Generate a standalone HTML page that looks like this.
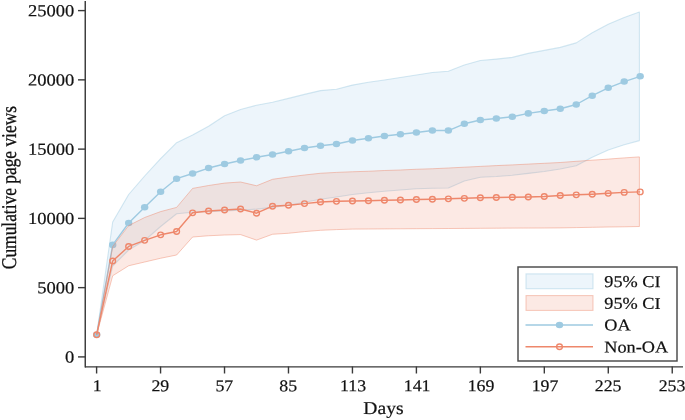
<!DOCTYPE html><html><head><meta charset="utf-8"><title>Cumulative page views</title><style>html,body{margin:0;padding:0;background:#fff}svg{display:block}text{font-family:"Liberation Serif","Times New Roman",serif;fill:#111;stroke:#111;stroke-width:0.2px}</style></head><body>
<svg width="685" height="420" viewBox="0 0 685 420">
<rect width="685" height="420" fill="#fff"/>
<polygon points="96.70,334.70 112.69,222.00 128.67,194.50 144.66,176.00 160.64,158.60 176.62,142.70 192.61,135.10 208.59,126.25 224.58,115.80 240.56,109.50 256.55,105.25 272.53,102.30 288.52,98.40 304.50,94.40 320.49,90.60 336.47,89.30 352.46,85.10 368.44,82.30 384.43,80.00 400.41,77.50 416.40,75.00 432.38,72.50 448.37,71.25 464.35,65.00 480.34,60.50 496.32,59.10 512.31,57.40 528.29,53.40 544.28,50.40 560.26,47.40 576.25,42.90 592.24,32.80 608.22,24.20 624.21,17.50 639.40,12.10 639.40,140.60 624.21,144.80 608.22,150.10 592.24,157.30 576.25,165.70 560.26,169.00 544.28,171.50 528.29,173.40 512.31,175.30 496.32,176.50 480.34,177.30 464.35,181.00 448.37,188.00 432.38,188.25 416.40,188.75 400.41,190.00 384.43,191.25 368.44,192.75 352.46,194.50 336.47,197.00 320.49,199.25 304.50,202.20 288.52,205.20 272.53,207.40 256.55,209.10 240.56,210.20 224.58,210.90 208.59,211.80 192.61,212.30 176.62,213.80 160.64,226.50 144.66,240.50 128.67,250.00 112.69,266.00 96.70,334.70" fill="#edf5fb" stroke="#9ecae1" stroke-opacity="0.45" stroke-width="1.1" stroke-linejoin="round"/>
<polyline points="96.70,334.70 112.69,244.90 128.67,223.00 144.66,207.30 160.64,191.70 176.62,178.70 192.61,173.50 208.59,168.05 224.58,164.05 240.56,160.55 256.55,157.30 272.53,154.55 288.52,151.30 304.50,148.05 320.49,145.80 336.47,144.05 352.46,140.55 368.44,138.30 384.43,136.05 400.41,134.30 416.40,132.55 432.38,130.55 448.37,130.55 464.35,123.80 480.34,120.05 496.32,118.55 512.31,116.70 528.29,113.40 544.28,111.05 560.26,108.80 576.25,104.50 592.24,95.70 608.22,87.80 624.21,81.55 640.19,76.30" fill="none" stroke="#9ecae1" stroke-width="1.4" stroke-linejoin="round"/>
<ellipse cx="96.70" cy="334.70" rx="3.7" ry="3.3" fill="#9ecae1"/>
<ellipse cx="112.69" cy="244.90" rx="3.7" ry="3.3" fill="#9ecae1"/>
<ellipse cx="128.67" cy="223.00" rx="3.7" ry="3.3" fill="#9ecae1"/>
<ellipse cx="144.66" cy="207.30" rx="3.7" ry="3.3" fill="#9ecae1"/>
<ellipse cx="160.64" cy="191.70" rx="3.7" ry="3.3" fill="#9ecae1"/>
<ellipse cx="176.62" cy="178.70" rx="3.7" ry="3.3" fill="#9ecae1"/>
<ellipse cx="192.61" cy="173.50" rx="3.7" ry="3.3" fill="#9ecae1"/>
<ellipse cx="208.59" cy="168.05" rx="3.7" ry="3.3" fill="#9ecae1"/>
<ellipse cx="224.58" cy="164.05" rx="3.7" ry="3.3" fill="#9ecae1"/>
<ellipse cx="240.56" cy="160.55" rx="3.7" ry="3.3" fill="#9ecae1"/>
<ellipse cx="256.55" cy="157.30" rx="3.7" ry="3.3" fill="#9ecae1"/>
<ellipse cx="272.53" cy="154.55" rx="3.7" ry="3.3" fill="#9ecae1"/>
<ellipse cx="288.52" cy="151.30" rx="3.7" ry="3.3" fill="#9ecae1"/>
<ellipse cx="304.50" cy="148.05" rx="3.7" ry="3.3" fill="#9ecae1"/>
<ellipse cx="320.49" cy="145.80" rx="3.7" ry="3.3" fill="#9ecae1"/>
<ellipse cx="336.47" cy="144.05" rx="3.7" ry="3.3" fill="#9ecae1"/>
<ellipse cx="352.46" cy="140.55" rx="3.7" ry="3.3" fill="#9ecae1"/>
<ellipse cx="368.44" cy="138.30" rx="3.7" ry="3.3" fill="#9ecae1"/>
<ellipse cx="384.43" cy="136.05" rx="3.7" ry="3.3" fill="#9ecae1"/>
<ellipse cx="400.41" cy="134.30" rx="3.7" ry="3.3" fill="#9ecae1"/>
<ellipse cx="416.40" cy="132.55" rx="3.7" ry="3.3" fill="#9ecae1"/>
<ellipse cx="432.38" cy="130.55" rx="3.7" ry="3.3" fill="#9ecae1"/>
<ellipse cx="448.37" cy="130.55" rx="3.7" ry="3.3" fill="#9ecae1"/>
<ellipse cx="464.35" cy="123.80" rx="3.7" ry="3.3" fill="#9ecae1"/>
<ellipse cx="480.34" cy="120.05" rx="3.7" ry="3.3" fill="#9ecae1"/>
<ellipse cx="496.32" cy="118.55" rx="3.7" ry="3.3" fill="#9ecae1"/>
<ellipse cx="512.31" cy="116.70" rx="3.7" ry="3.3" fill="#9ecae1"/>
<ellipse cx="528.29" cy="113.40" rx="3.7" ry="3.3" fill="#9ecae1"/>
<ellipse cx="544.28" cy="111.05" rx="3.7" ry="3.3" fill="#9ecae1"/>
<ellipse cx="560.26" cy="108.80" rx="3.7" ry="3.3" fill="#9ecae1"/>
<ellipse cx="576.25" cy="104.50" rx="3.7" ry="3.3" fill="#9ecae1"/>
<ellipse cx="592.24" cy="95.70" rx="3.7" ry="3.3" fill="#9ecae1"/>
<ellipse cx="608.22" cy="87.80" rx="3.7" ry="3.3" fill="#9ecae1"/>
<ellipse cx="624.21" cy="81.55" rx="3.7" ry="3.3" fill="#9ecae1"/>
<ellipse cx="640.19" cy="76.30" rx="3.7" ry="3.3" fill="#9ecae1"/>
<polygon points="96.70,334.70 112.69,246.50 128.67,225.60 144.66,217.50 160.64,211.60 176.62,207.40 192.61,188.40 208.59,185.50 224.58,183.10 240.56,182.00 256.55,185.75 272.53,179.30 288.52,177.00 304.50,175.00 320.49,173.25 336.47,172.40 352.46,171.75 368.44,171.25 384.43,170.50 400.41,170.00 416.40,169.25 432.38,168.75 448.37,168.00 464.35,167.20 480.34,166.40 496.32,165.60 512.31,164.90 528.29,164.10 544.28,163.30 560.26,162.50 576.25,161.30 592.24,160.20 608.22,159.10 624.21,157.90 639.40,156.90 639.40,226.50 624.21,226.80 608.22,227.00 592.24,227.30 576.25,227.60 560.26,227.90 544.28,228.00 528.29,228.05 512.31,228.10 496.32,228.20 480.34,228.30 464.35,228.40 448.37,228.50 432.38,228.60 416.40,228.70 400.41,228.80 384.43,228.90 368.44,229.00 352.46,229.10 336.47,229.60 320.49,230.30 304.50,231.60 288.52,233.25 272.53,234.25 256.55,240.10 240.56,234.60 224.58,235.00 208.59,235.75 192.61,237.00 176.62,255.00 160.64,258.25 144.66,262.00 128.67,265.75 112.69,275.75 96.70,334.70" fill="#ee876b" fill-opacity="0.185" stroke="#ee876b" stroke-opacity="0.45" stroke-width="1" stroke-linejoin="round"/>
<polyline points="96.70,334.70 112.69,260.95 128.67,246.45 144.66,240.30 160.64,234.80 176.62,231.50 192.61,212.80 208.59,210.95 224.58,209.95 240.56,208.95 256.55,213.20 272.53,206.20 288.52,205.20 304.50,203.60 320.49,201.95 336.47,201.30 352.46,200.95 368.44,200.70 384.43,200.20 400.41,199.95 416.40,199.45 432.38,199.20 448.37,198.80 464.35,198.30 480.34,197.70 496.32,197.45 512.31,197.20 528.29,196.95 544.28,196.45 560.26,195.45 576.25,194.80 592.24,194.20 608.22,193.30 624.21,192.40 640.19,191.90" fill="none" stroke="#ee876b" stroke-width="1.4" stroke-linejoin="round"/>
<ellipse cx="96.70" cy="334.70" rx="2.9" ry="2.75" fill="none" stroke="#ee876b" stroke-width="1.35"/>
<ellipse cx="112.69" cy="260.95" rx="2.9" ry="2.75" fill="none" stroke="#ee876b" stroke-width="1.35"/>
<ellipse cx="128.67" cy="246.45" rx="2.9" ry="2.75" fill="none" stroke="#ee876b" stroke-width="1.35"/>
<ellipse cx="144.66" cy="240.30" rx="2.9" ry="2.75" fill="none" stroke="#ee876b" stroke-width="1.35"/>
<ellipse cx="160.64" cy="234.80" rx="2.9" ry="2.75" fill="none" stroke="#ee876b" stroke-width="1.35"/>
<ellipse cx="176.62" cy="231.50" rx="2.9" ry="2.75" fill="none" stroke="#ee876b" stroke-width="1.35"/>
<ellipse cx="192.61" cy="212.80" rx="2.9" ry="2.75" fill="none" stroke="#ee876b" stroke-width="1.35"/>
<ellipse cx="208.59" cy="210.95" rx="2.9" ry="2.75" fill="none" stroke="#ee876b" stroke-width="1.35"/>
<ellipse cx="224.58" cy="209.95" rx="2.9" ry="2.75" fill="none" stroke="#ee876b" stroke-width="1.35"/>
<ellipse cx="240.56" cy="208.95" rx="2.9" ry="2.75" fill="none" stroke="#ee876b" stroke-width="1.35"/>
<ellipse cx="256.55" cy="213.20" rx="2.9" ry="2.75" fill="none" stroke="#ee876b" stroke-width="1.35"/>
<ellipse cx="272.53" cy="206.20" rx="2.9" ry="2.75" fill="none" stroke="#ee876b" stroke-width="1.35"/>
<ellipse cx="288.52" cy="205.20" rx="2.9" ry="2.75" fill="none" stroke="#ee876b" stroke-width="1.35"/>
<ellipse cx="304.50" cy="203.60" rx="2.9" ry="2.75" fill="none" stroke="#ee876b" stroke-width="1.35"/>
<ellipse cx="320.49" cy="201.95" rx="2.9" ry="2.75" fill="none" stroke="#ee876b" stroke-width="1.35"/>
<ellipse cx="336.47" cy="201.30" rx="2.9" ry="2.75" fill="none" stroke="#ee876b" stroke-width="1.35"/>
<ellipse cx="352.46" cy="200.95" rx="2.9" ry="2.75" fill="none" stroke="#ee876b" stroke-width="1.35"/>
<ellipse cx="368.44" cy="200.70" rx="2.9" ry="2.75" fill="none" stroke="#ee876b" stroke-width="1.35"/>
<ellipse cx="384.43" cy="200.20" rx="2.9" ry="2.75" fill="none" stroke="#ee876b" stroke-width="1.35"/>
<ellipse cx="400.41" cy="199.95" rx="2.9" ry="2.75" fill="none" stroke="#ee876b" stroke-width="1.35"/>
<ellipse cx="416.40" cy="199.45" rx="2.9" ry="2.75" fill="none" stroke="#ee876b" stroke-width="1.35"/>
<ellipse cx="432.38" cy="199.20" rx="2.9" ry="2.75" fill="none" stroke="#ee876b" stroke-width="1.35"/>
<ellipse cx="448.37" cy="198.80" rx="2.9" ry="2.75" fill="none" stroke="#ee876b" stroke-width="1.35"/>
<ellipse cx="464.35" cy="198.30" rx="2.9" ry="2.75" fill="none" stroke="#ee876b" stroke-width="1.35"/>
<ellipse cx="480.34" cy="197.70" rx="2.9" ry="2.75" fill="none" stroke="#ee876b" stroke-width="1.35"/>
<ellipse cx="496.32" cy="197.45" rx="2.9" ry="2.75" fill="none" stroke="#ee876b" stroke-width="1.35"/>
<ellipse cx="512.31" cy="197.20" rx="2.9" ry="2.75" fill="none" stroke="#ee876b" stroke-width="1.35"/>
<ellipse cx="528.29" cy="196.95" rx="2.9" ry="2.75" fill="none" stroke="#ee876b" stroke-width="1.35"/>
<ellipse cx="544.28" cy="196.45" rx="2.9" ry="2.75" fill="none" stroke="#ee876b" stroke-width="1.35"/>
<ellipse cx="560.26" cy="195.45" rx="2.9" ry="2.75" fill="none" stroke="#ee876b" stroke-width="1.35"/>
<ellipse cx="576.25" cy="194.80" rx="2.9" ry="2.75" fill="none" stroke="#ee876b" stroke-width="1.35"/>
<ellipse cx="592.24" cy="194.20" rx="2.9" ry="2.75" fill="none" stroke="#ee876b" stroke-width="1.35"/>
<ellipse cx="608.22" cy="193.30" rx="2.9" ry="2.75" fill="none" stroke="#ee876b" stroke-width="1.35"/>
<ellipse cx="624.21" cy="192.40" rx="2.9" ry="2.75" fill="none" stroke="#ee876b" stroke-width="1.35"/>
<ellipse cx="640.19" cy="191.90" rx="2.9" ry="2.75" fill="none" stroke="#ee876b" stroke-width="1.35"/>
<line x1="85.25" y1="1" x2="85.25" y2="367.5" stroke="#3a3a3a" stroke-width="1.45"/>
<line x1="85" y1="366.85" x2="683" y2="366.85" stroke="#3a3a3a" stroke-width="1.45"/>
<line x1="78" y1="356.90" x2="85.5" y2="356.90" stroke="#3a3a3a" stroke-width="1.4"/>
<g transform="translate(74.3,362.6) rotate(0.03) scale(1.095,1)"><text x="0" y="0" text-anchor="end" font-size="16.9">0</text></g>
<line x1="78" y1="287.64" x2="85.5" y2="287.64" stroke="#3a3a3a" stroke-width="1.4"/>
<g transform="translate(74.3,293.34) rotate(0.03) scale(1.095,1)"><text x="0" y="0" text-anchor="end" font-size="16.9">5000</text></g>
<line x1="78" y1="218.38" x2="85.5" y2="218.38" stroke="#3a3a3a" stroke-width="1.4"/>
<g transform="translate(74.3,224.08) rotate(0.03) scale(1.095,1)"><text x="0" y="0" text-anchor="end" font-size="16.9">10000</text></g>
<line x1="78" y1="149.12" x2="85.5" y2="149.12" stroke="#3a3a3a" stroke-width="1.4"/>
<g transform="translate(74.3,154.82) rotate(0.03) scale(1.095,1)"><text x="0" y="0" text-anchor="end" font-size="16.9">15000</text></g>
<line x1="78" y1="79.86" x2="85.5" y2="79.86" stroke="#3a3a3a" stroke-width="1.4"/>
<g transform="translate(74.3,85.56) rotate(0.03) scale(1.095,1)"><text x="0" y="0" text-anchor="end" font-size="16.9">20000</text></g>
<line x1="78" y1="10.60" x2="85.5" y2="10.60" stroke="#3a3a3a" stroke-width="1.4"/>
<g transform="translate(74.3,16.3) rotate(0.03) scale(1.095,1)"><text x="0" y="0" text-anchor="end" font-size="16.9">25000</text></g>
<line x1="96.60" y1="366.5" x2="96.60" y2="373.5" stroke="#3a3a3a" stroke-width="1.4"/>
<g transform="translate(97.3,391.3) rotate(0.03) scale(1.075,1)"><text x="0" y="0" text-anchor="middle" font-size="16.6">1</text></g>
<line x1="160.56" y1="366.5" x2="160.56" y2="373.5" stroke="#3a3a3a" stroke-width="1.4"/>
<g transform="translate(160.36,391.3) rotate(0.03) scale(1.075,1)"><text x="0" y="0" text-anchor="middle" font-size="16.6">29</text></g>
<line x1="224.52" y1="366.5" x2="224.52" y2="373.5" stroke="#3a3a3a" stroke-width="1.4"/>
<g transform="translate(224.32,391.3) rotate(0.03) scale(1.075,1)"><text x="0" y="0" text-anchor="middle" font-size="16.6">57</text></g>
<line x1="288.48" y1="366.5" x2="288.48" y2="373.5" stroke="#3a3a3a" stroke-width="1.4"/>
<g transform="translate(288.28,391.3) rotate(0.03) scale(1.075,1)"><text x="0" y="0" text-anchor="middle" font-size="16.6">85</text></g>
<line x1="352.44" y1="366.5" x2="352.44" y2="373.5" stroke="#3a3a3a" stroke-width="1.4"/>
<g transform="translate(353.14,391.3) rotate(0.03) scale(1.075,1)"><text x="0" y="0" text-anchor="middle" font-size="16.6">113</text></g>
<line x1="416.40" y1="366.5" x2="416.40" y2="373.5" stroke="#3a3a3a" stroke-width="1.4"/>
<g transform="translate(417.1,391.3) rotate(0.03) scale(1.075,1)"><text x="0" y="0" text-anchor="middle" font-size="16.6">141</text></g>
<line x1="480.36" y1="366.5" x2="480.36" y2="373.5" stroke="#3a3a3a" stroke-width="1.4"/>
<g transform="translate(481.06,391.3) rotate(0.03) scale(1.075,1)"><text x="0" y="0" text-anchor="middle" font-size="16.6">169</text></g>
<line x1="544.32" y1="366.5" x2="544.32" y2="373.5" stroke="#3a3a3a" stroke-width="1.4"/>
<g transform="translate(545.02,391.3) rotate(0.03) scale(1.075,1)"><text x="0" y="0" text-anchor="middle" font-size="16.6">197</text></g>
<line x1="608.28" y1="366.5" x2="608.28" y2="373.5" stroke="#3a3a3a" stroke-width="1.4"/>
<g transform="translate(608.08,391.3) rotate(0.03) scale(1.075,1)"><text x="0" y="0" text-anchor="middle" font-size="16.6">225</text></g>
<line x1="672.24" y1="366.5" x2="672.24" y2="373.5" stroke="#3a3a3a" stroke-width="1.4"/>
<g transform="translate(672.04,391.3) rotate(0.03) scale(1.075,1)"><text x="0" y="0" text-anchor="middle" font-size="16.6">253</text></g>
<g transform="translate(383.5,414.1) rotate(0.03) scale(1.09,1)"><text x="0" y="0" text-anchor="middle" font-size="18.0">Days</text></g>
<g transform="translate(16.0,187.6) rotate(-89.97) scale(0.828,1)"><text text-anchor="middle" font-size="21" style="stroke-width:0.3px">Cumulative page views</text></g>
<rect x="518" y="267" width="159" height="94" fill="#fff" stroke="#4a4a4a" stroke-width="1.45"/>
<rect x="526" y="273.9" width="67" height="14.8" fill="#edf5fb" stroke="#9ecae1" stroke-opacity="0.45" stroke-width="1.1"/>
<rect x="526" y="295.6" width="67" height="14.8" fill="#ee876b" fill-opacity="0.185" stroke="#ee876b" stroke-opacity="0.45"/>
<line x1="525.5" y1="325.0" x2="593" y2="325.0" stroke="#9ecae1" stroke-width="1.5"/><ellipse cx="559.5" cy="325.0" rx="3.7" ry="3.3" fill="#9ecae1"/>
<line x1="525.5" y1="346.7" x2="593" y2="346.7" stroke="#ee876b" stroke-width="1.5"/><ellipse cx="559.5" cy="346.7" rx="2.9" ry="2.75" fill="none" stroke="#ee876b" stroke-width="1.35"/>
<g transform="translate(604.3,287.1) rotate(0.03) scale(1.1,1)"><text x="0" y="0" text-anchor="start" font-size="16.6">95% CI</text></g>
<g transform="translate(604.3,308.85) rotate(0.03) scale(1.1,1)"><text x="0" y="0" text-anchor="start" font-size="16.6">95% CI</text></g>
<g transform="translate(604.3,330.6) rotate(0.03) scale(1.1,1)"><text x="0" y="0" text-anchor="start" font-size="16.6">OA</text></g>
<g transform="translate(604.3,352.4) rotate(0.03) scale(1.1,1)"><text x="0" y="0" text-anchor="start" font-size="16.6">Non-OA</text></g>
</svg></body></html>
